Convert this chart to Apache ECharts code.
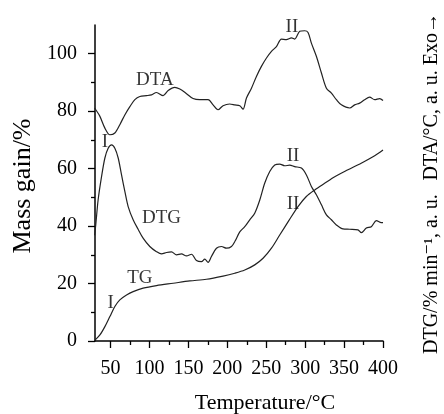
<!DOCTYPE html>
<html>
<head>
<meta charset="utf-8">
<script src="https://cdn.jsdelivr.net/npm/echarts@6.0.0/dist/echarts.min.js"></script>
<style>
  html, body { margin: 0; padding: 0; background: #fff; }
  #chart { width: 444px; height: 414px; }
</style>
</head>
<body>
<div id="chart"></div>
<script>
// temperatures (°C) and signal values
const dtaTemp = [29.5, 36.3, 42.7, 49.1, 55.5, 61.9, 68.3, 74.8, 81.2, 87.6, 96.2, 102.6, 109, 117.5, 124,
  132.5, 139, 147.6, 156, 164.6, 175.3, 181.7, 188, 194.5, 203, 209.6, 216, 220.2, 224.6, 231, 237.4,
  243.8, 250.3, 256.7, 263.1, 269.5, 275.9, 282.4, 286.6, 293, 299.4, 303.7, 308, 314.4, 320.9, 327.3,
  333.7, 340.1, 346.5, 357.2, 363.6, 370, 376.4, 382.8, 389.3, 395.7, 400];
const dtaValue = [81.1, 78.2, 74.1, 71.8, 72.4, 75.3, 78.7, 81.6, 84.0, 85.1, 85.4, 85.7, 86.5, 85.4, 87.2,
  88.3, 87.7, 86.1, 84.4, 84.0, 84.0, 82.2, 80.5, 81.9, 82.5, 82.2, 81.9, 80.7, 84.6, 88.0, 92.1,
  95.6, 98.5, 100.8, 102.5, 105.1, 104.9, 105.5, 105.1, 107.8, 108.0, 107.4, 103.7, 99.1, 93.3, 88.0,
  86.3, 84.0, 82.2, 81.1, 82.2, 82.8, 84.0, 84.9, 84.0, 84.4, 83.7];

const dtgTemp = [29.5, 31, 34, 38.4, 42.7, 46.9, 51.3, 55.5, 59.8, 64.1, 68.4, 72.6, 79, 85.4, 91.8, 100.4,
  109, 115.5, 121.9, 128.3, 134.7, 141.1, 147.6, 154, 160.4, 166.8, 171, 175.3, 179.6, 186, 192.5,
  198.9, 205.3, 210, 216, 222.4, 228.8, 235.2, 241.7, 248, 254.5, 260.9, 267.3, 273.7, 280.1, 286.6,
  295.2, 301.6, 308, 314.4, 320.9, 327.3, 333.7, 340.1, 348.6, 357.2, 367.8, 372.2, 378.6, 385,
  391.5, 397.8, 400];
const dtgValue = [36.8, 40.5, 49.1, 57.2, 63.7, 67.1, 68.3, 67.1, 63.7, 57.8, 52.0, 46.8, 42.2, 38.9, 35.8, 32.9,
  31.1, 30.3, 30.8, 31.0, 30.0, 30.3, 29.6, 30.2, 28.0, 27.6, 28.5, 27.4, 29.4, 32.3, 32.9,
  32.3, 32.9, 34.8, 38.0, 39.8, 42.2, 44.5, 49.1, 54.9, 59.0, 61.3, 61.6, 61.0, 61.2, 60.7,
  60.2, 57.8, 53.8, 50.9, 47.4, 43.9, 42.2, 40.4, 39.0, 38.9, 38.7, 37.7, 39.3, 39.8,
  41.9, 41.2, 41.2];

const tgTemp = [30, 36.3, 42.7, 49.1, 55.5, 61.9, 70.5, 79, 91.8, 109, 130.4, 151.8, 173.2, 194.5, 209.6,
  222.4, 235.2, 245.9, 256.7, 267.3, 279, 290.8, 301.5, 312.3, 325, 338, 355, 372, 389.3, 400];
const tgValue = [0.3, 2.1, 5.0, 8.5, 12.0, 14.3, 16.0, 17.2, 18.4, 19.3, 20.1, 20.9, 21.5, 22.6, 23.6,
  24.7, 26.5, 28.8, 32.3, 36.9, 41.9, 46.8, 50.3, 52.6, 54.9, 57.2, 59.6, 61.9, 64.5, 66.5];

// curve annotations
const noteText = ['DTA', 'II', 'I', 'DTG', 'II', 'II', 'TG', 'I'];
const noteTemp = [106.9, 283, 42.7, 115.5, 284.4, 284.4, 87.6, 50];
const noteValue = [90.9, 109.3, 69.4, 42.8, 64.5, 47.7, 21.8, 13.3];

const xMajor = [50, 100, 150, 200, 250, 300, 350, 400];
const xMinor = [75, 125, 175, 225, 275, 325, 375];
const yMajor = [0, 20, 40, 60, 80, 100];
const yMinor = [10, 30, 50, 70, 90];

const FONT = '"Liberation Serif", "DejaVu Serif", serif';
const zip = (a, b) => a.map((v, i) => [v, b[i]]);

const chart = echarts.init(document.getElementById('chart'));

const axisX = (extra) => Object.assign({
  type: 'value', min: 30, max: 400,
  splitLine: { show: false },
  axisLine: { show: true, onZero: false, lineStyle: { color: '#000', width: 1.5 } },
  axisTick: { show: true, length: 7, customValues: xMajor, lineStyle: { color: '#000', width: 1.3 } },
  axisLabel: { show: true, customValues: xMajor, margin: 18, color: '#000', fontSize: 20, fontFamily: FONT }
}, extra);

const axisY = (extra) => Object.assign({
  type: 'value', min: 0, max: 110, position: 'left',
  splitLine: { show: false },
  axisLine: { show: true, lineStyle: { color: '#000', width: 1.5 } },
  axisTick: { show: true, length: 7, customValues: yMajor, lineStyle: { color: '#000', width: 1.3 } },
  axisLabel: { show: true, customValues: yMajor, margin: 18, color: '#000', fontSize: 20, fontFamily: FONT }
}, extra);

const line = (name, t, v) => ({
  name, type: 'line', data: zip(t, v), showSymbol: false, smooth: 0.3,
  lineStyle: { color: '#222', width: 1.2 }, silent: true
});

// right-hand vertical caption, two parts pinned at both ends
const sideText = (text, y, align) => ({
  type: 'text', x: 432, y, rotation: Math.PI / 2,
  style: { text, fill: '#000', font: '20px ' + FONT, align, verticalAlign: 'middle' }
});

chart.setOption({
  backgroundColor: '#fff',
  animation: false,
  grid: { left: 95, right: 61, top: 25, bottom: 73, containLabel: false, outerBoundsMode: 'none' },
  xAxis: [
    axisX({
      name: 'Temperature/°C', nameLocation: 'middle', nameGap: 51,
      nameTextStyle: { color: '#000', fontSize: 22, fontFamily: FONT, padding: [0, 0, 0, 52] }
    }),
    axisX({
      axisLine: { show: false },
      axisTick: { show: true, length: 4, customValues: xMinor, lineStyle: { color: '#000', width: 1.3 } },
      axisLabel: { show: false }, position: 'bottom'
    })
  ],
  yAxis: [
    axisY({
      name: 'Mass gain/%', nameLocation: 'middle', nameGap: 58,
      nameTextStyle: { color: '#000', fontSize: 26, fontFamily: FONT, padding: [0, 6, 0, 0] }
    }),
    axisY({
      axisLine: { show: false },
      axisTick: { show: true, length: 4, customValues: yMinor, lineStyle: { color: '#000', width: 1.3 } },
      axisLabel: { show: false }
    })
  ],
  graphic: [
    sideText('DTG/% min\u207B\u00B9, a. u.', 354, 'left'),
    sideText('DTA/°C, a. u. Exo\u2192', 13, 'right')
  ],
  series: [
    line('DTA', dtaTemp, dtaValue),
    line('DTG', dtgTemp, dtgValue),
    line('TG', tgTemp, tgValue),
    {
      name: 'notes', type: 'scatter', symbolSize: 1, silent: true, z: 5,
      itemStyle: { color: 'rgba(0,0,0,0)' },
      data: noteTemp.map((t, i) => [t, noteValue[i], noteText[i]]),
      label: {
        show: true, position: 'inside', formatter: (p) => p.data[2],
        color: '#000', fontSize: 19, fontFamily: FONT
      }
    }
  ]
});
</script>
</body>
</html>
